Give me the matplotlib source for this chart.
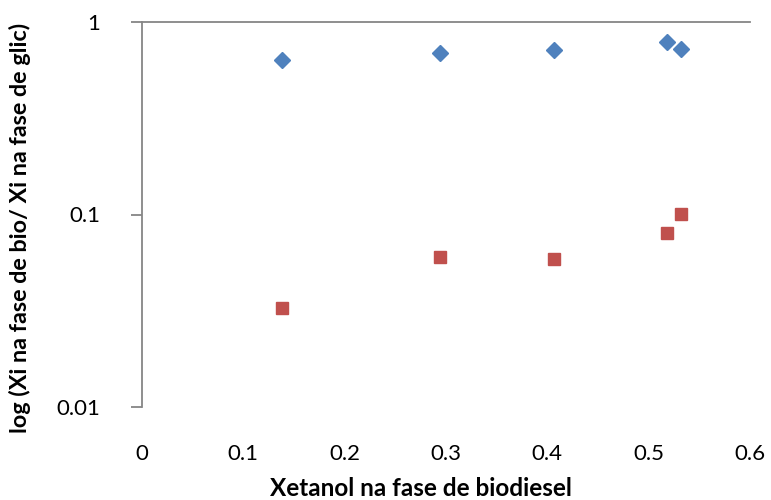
import matplotlib.pyplot as plt
import matplotlib.ticker as mticker

# fração de etanol na fase biodiesel
x_bio = [0.138, 0.294, 0.407, 0.518, 0.532]
# coeficientes de partição (série 1 e série 2)
k_serie1 = [0.635, 0.690, 0.716, 0.787, 0.724]
k_serie2 = [0.0328, 0.0604, 0.0587, 0.0798, 0.1002]

x_ticks = [0, 0.1, 0.2, 0.3, 0.4, 0.5, 0.6]
y_ticks = [0.01, 0.1, 1]
y_tick_labels = ['0.01', '0.1', '1']

plt.rcParams['font.family'] = ['Lato', 'DejaVu Sans']

fig = plt.figure(figsize=(7.71, 5.0), dpi=100)
ax = fig.add_axes([0.1842, 0.186, 0.7886, 0.770])

ax.plot(x_bio, k_serie1, linestyle='none', marker='D', markersize=8,
        color='#4F81BD', markeredgecolor='#4F81BD')
ax.plot(x_bio, k_serie2, linestyle='none', marker='s', markersize=9,
        color='#C0504D', markeredgecolor='#C0504D')

ax.set_yscale('log')
ax.set_xlim(0, 0.6)
ax.set_ylim(0.01, 1)
ax.yaxis.set_major_locator(mticker.FixedLocator(y_ticks))
ax.yaxis.set_major_formatter(mticker.FixedFormatter(y_tick_labels))
ax.yaxis.set_minor_locator(mticker.NullLocator())
ax.set_xticks(x_ticks)
ax.set_xticklabels(['0', '0.1', '0.2', '0.3', '0.4', '0.5', '0.6'])

# eixo horizontal cruza em 1 (linha no topo), sem linha embaixo
gray = '#868686'
ax.spines['right'].set_visible(False)
ax.spines['bottom'].set_visible(False)
ax.spines['left'].set_color(gray)
ax.spines['top'].set_color(gray)
ax.spines['left'].set_linewidth(1.3)
ax.spines['top'].set_linewidth(1.3)

ax.tick_params(axis='y', direction='out', length=8, width=1.3, color=gray,
               labelsize=16, pad=22)
ax.tick_params(axis='x', length=0, labelsize=16, pad=27)

ax.set_xlabel('Xetanol na fase de biodiesel', fontsize=17.5, fontweight='bold',
              labelpad=9)
ax.set_ylabel('log (Xi na fase de bio/ Xi na fase de glic)', fontsize=16.8,
              fontweight='bold', labelpad=18)
ax.xaxis.label.set_x(0.459)
ax.yaxis.label.set_y(0.465)

fig.savefig('out.png', dpi=100)
